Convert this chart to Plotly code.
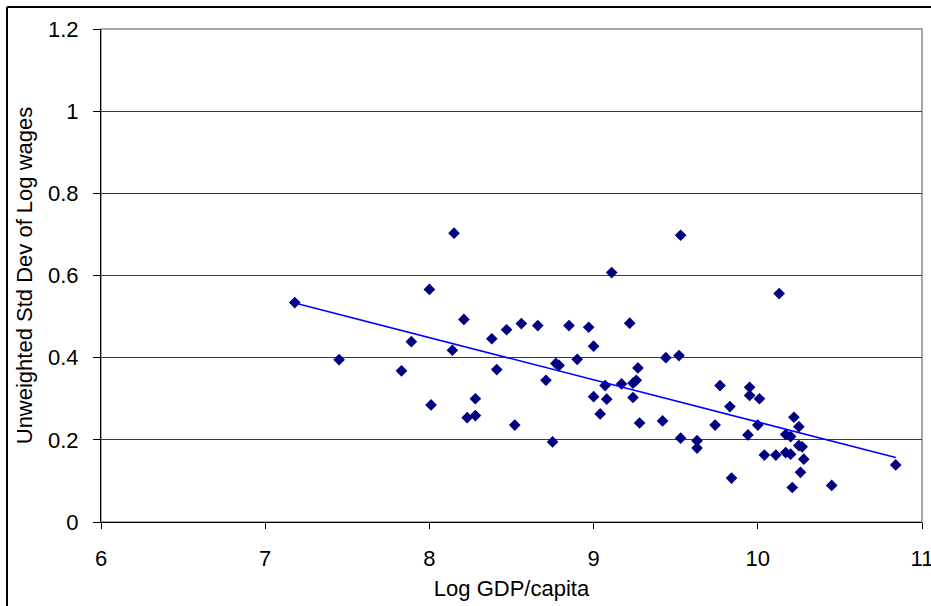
import plotly.graph_objects as go

log_gdp = [7.18, 7.45, 7.83, 7.89, 8.00, 8.01, 8.15, 8.14, 8.21, 8.23, 8.28, 8.28,
           8.38, 8.41, 8.47, 8.52, 8.56, 8.66, 8.71, 8.75, 8.77, 8.79, 8.85, 8.90,
           8.97, 9.00, 9.00, 9.04, 9.07, 9.08, 9.11, 9.17, 9.22, 9.24, 9.24, 9.26,
           9.27, 9.28, 9.42, 9.44, 9.52, 9.53, 9.53, 9.63, 9.63, 9.74, 9.77, 9.83,
           9.84, 9.94, 9.95, 9.95, 10.01, 10.00, 10.04, 10.13, 10.11, 10.17, 10.17,
           10.20, 10.20, 10.21, 10.22, 10.25, 10.25, 10.26, 10.27, 10.28, 10.45, 10.84]
std_log_wages = [0.534, 0.395, 0.368, 0.439, 0.566, 0.285, 0.703, 0.418, 0.493, 0.254, 0.300, 0.259,
                 0.446, 0.371, 0.468, 0.236, 0.483, 0.478, 0.345, 0.195, 0.386, 0.381, 0.478, 0.396,
                 0.474, 0.428, 0.305, 0.263, 0.332, 0.299, 0.607, 0.336, 0.484, 0.338, 0.303, 0.345,
                 0.375, 0.241, 0.246, 0.400, 0.405, 0.698, 0.204, 0.198, 0.180, 0.236, 0.332, 0.281,
                 0.107, 0.212, 0.328, 0.308, 0.300, 0.236, 0.163, 0.556, 0.163, 0.169, 0.213,
                 0.208, 0.165, 0.084, 0.255, 0.232, 0.186, 0.121, 0.183, 0.153, 0.089, 0.139]

trend_x = [7.18, 10.84]
trend_y = [0.533, 0.157]

x_ticks = [6, 7, 8, 9, 10, 11]
y_ticks = [0, 0.2, 0.4, 0.6, 0.8, 1, 1.2]
y_tick_text = ["0", "0.2", "0.4", "0.6", "0.8", "1", "1.2"]
x_title = "Log GDP/capita"
y_title = "Unweighted Std Dev of Log wages"

font = "Liberation Sans, Arial, sans-serif"

fig = go.Figure()
fig.add_trace(go.Scatter(x=log_gdp, y=std_log_wages, mode="markers",
                         marker=dict(symbol="diamond", size=9, color="#000080",
                                     line=dict(width=0)),
                         showlegend=False, hoverinfo="x+y"))
fig.add_trace(go.Scatter(x=trend_x, y=trend_y, mode="lines",
                         line=dict(color="#0000FF", width=1.5),
                         showlegend=False, hoverinfo="skip"))

fig.update_layout(
    width=931, height=606,
    margin=dict(l=101, r=9, t=29, b=84, autoexpand=False),
    paper_bgcolor="white", plot_bgcolor="white",
    font=dict(family=font, size=22, color="black"),
    showlegend=False,
    xaxis=dict(range=[6, 11], tickvals=x_ticks, ticktext=[str(v) for v in x_ticks],
               showgrid=False, zeroline=False, showline=True, linecolor="black", linewidth=1,
               ticks="outside", ticklen=6, tickcolor="black", ticklabelstandoff=11,
               ticklabeloverflow="allow", automargin=False,
               tickfont=dict(size=22),
               title=dict(text=x_title, standoff=10, font=dict(size=22))),
    yaxis=dict(range=[0, 1.2], tickvals=y_ticks, ticktext=y_tick_text,
               showgrid=True, gridcolor="#3a3a3a", gridwidth=1,
               zeroline=False, showline=True, linecolor="black", linewidth=1,
               ticks="outside", ticklen=7, tickcolor="black", ticklabelstandoff=10,
               automargin=False,
               tickfont=dict(size=22),
               title=dict(text=y_title, standoff=9, font=dict(size=22))),
    shapes=[
        dict(type="rect", xref="paper", yref="paper", x0=0, x1=1, y0=0, y1=1,
             line=dict(color="#8c8c8c", width=1.5), layer="below"),
        dict(type="line", xref="paper", yref="paper", x0=-0.1145, x1=1.2, y0=1.0446, y1=1.0446,
             line=dict(color="black", width=2)),
        dict(type="line", xref="paper", yref="paper", x0=-0.1145, x1=-0.1145, y0=-0.3, y1=1.0446,
             line=dict(color="black", width=2)),
    ],
)

fig.write_html("out.html", config={"displayModeBar": False},
               post_script="document.body.style.margin='0';")
